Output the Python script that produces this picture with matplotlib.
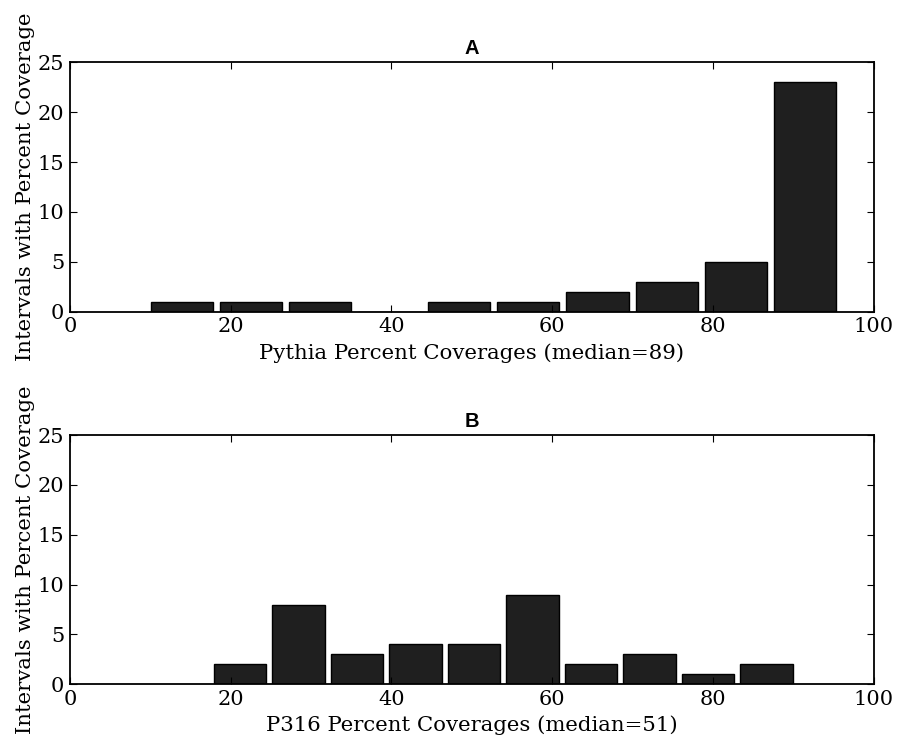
import numpy as np
from matplotlib import pyplot

# histogram bins and counts per bin
edges_a = np.linspace(9.6, 95.8, 11)
counts_a = [1, 1, 1, 0, 1, 1, 2, 3, 5, 23]
edges_b = np.linspace(17.5, 90.3, 11)
counts_b = [2, 8, 3, 4, 4, 9, 2, 3, 1, 2]

xlabel_a = 'Pythia Percent Coverages (median=89)'
xlabel_b = 'P316 Percent Coverages (median=51)'
ylabel = 'Intervals with Percent Coverage'

pyplot.rcParams['font.family'] = 'DejaVu Serif'
pyplot.rcParams['xtick.direction'] = 'in'
pyplot.rcParams['ytick.direction'] = 'in'
pyplot.rcParams['xtick.top'] = True
pyplot.rcParams['ytick.right'] = True
pyplot.rcParams['xtick.major.size'] = 5
pyplot.rcParams['ytick.major.size'] = 5
pyplot.rcParams['axes.linewidth'] = 1.3

fig = pyplot.figure(figsize=(8.97, 7.35), dpi=100)
ax1 = fig.add_axes([0.078, 0.576, 0.896, 0.339])
ax2 = fig.add_axes([0.078, 0.069, 0.896, 0.339])


def draw(ax, edges, counts, xlabel, title):
    ax.hist(edges[:-1], bins=edges, weights=counts, rwidth=0.9,
            color='#1f1f1f', edgecolor='black', linewidth=1)
    ax.set_xlim(0, 100)
    ax.set_ylim(0, 25)
    ax.set_xticks([0, 20, 40, 60, 80, 100])
    ax.set_yticks([0, 5, 10, 15, 20, 25])
    ax.tick_params(labelsize=15, pad=4)
    ax.set_xlabel(xlabel, fontsize=15.3, labelpad=5)
    ax.set_ylabel(ylabel, fontsize=15.3, labelpad=2)
    ax.set_title(title, fontsize=14.5, fontweight='bold',
                 family='Liberation Sans', pad=6)


draw(ax1, edges_a, counts_a, xlabel_a, 'A')
draw(ax2, edges_b, counts_b, xlabel_b, 'B')

fig.savefig('out.png', dpi=100)
